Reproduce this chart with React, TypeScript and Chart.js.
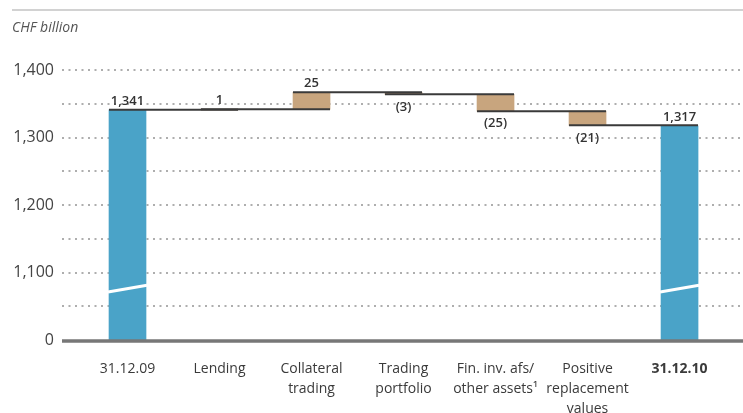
import React, { useEffect, useRef } from "react";
import { Chart, registerables } from "chart.js";

Chart.register(...registerables);

// ---- data ----
const categories: (string | string[])[] = [
  "31.12.09",
  "Lending",
  ["Collateral", "trading"],
  ["Trading", "portfolio"],
  ["Fin. inv. afs/", "other assets¹"],
  ["Positive", "replacement", "values"],
  "31.12.10",
];
const startTotal = 1341;
const changes = [1, 25, -3, -25, -21];
const endTotal = 1317;
const valueLabels = ["1,341", "1", "25", "(3)", "(25)", "(21)", "1,317"];
const axisBreakValue = 1000; // shown as 0 (broken axis)
const yTickValues = [1000, 1100, 1200, 1300, 1400];
const yTickLabels = ["0", "1,100", "1,200", "1,300", "1,400"];
const unitLabel = "CHF billion";

const BLUE = "#4aa3c8";
const BROWN = "#c8a57e";
const DARK = "#3a3a3a";
const FONT = "'Open Sans', 'Noto Sans', sans-serif";

// build floating ranges
const ranges: [number, number][] = [];
const levels: number[] = [];
ranges.push([axisBreakValue, startTotal]);
levels.push(startTotal);
let run = startTotal;
for (const c of changes) {
  const next = run + c;
  ranges.push([Math.min(run, next), Math.max(run, next)]);
  run = next;
  levels.push(run);
}
ranges.push([axisBreakValue, endTotal]);
const isTotal = (i: number) => i === 0 || i === categories.length - 1;
const isUp = (i: number) => isTotal(i) || changes[i - 1] > 0;

export default function App() {
  const ref = useRef<HTMLCanvasElement>(null);

  useEffect(() => {
    document.body.style.margin = "0";
    const canvas = ref.current!;

    const decor = {
      id: "decor",
      beforeDraw(chart: any) {
        const ctx = chart.ctx;
        ctx.save();
        ctx.strokeStyle = "#d2d2d2";
        ctx.lineWidth = 2;
        ctx.beginPath();
        ctx.moveTo(12, 10);
        ctx.lineTo(743, 10);
        ctx.stroke();
        ctx.fillStyle = "#555";
        ctx.font = `italic 14px ${FONT}`;
        ctx.textBaseline = "middle";
        ctx.textAlign = "left";
        ctx.fillText(unitLabel, 12, 28);
        ctx.restore();
      },
      afterDatasetsDraw(chart: any) {
        const ctx = chart.ctx;
        const y = chart.scales.y;
        const meta = chart.getDatasetMeta(0);
        const els = meta.data;
        ctx.save();
        // connectors
        ctx.strokeStyle = DARK;
        ctx.lineWidth = 2;
        for (let i = 0; i < els.length - 1; i++) {
          const a = els[i];
          const b = els[i + 1];
          const py = y.getPixelForValue(levels[i]);
          ctx.beginPath();
          ctx.moveTo(a.x - a.width / 2, py);
          ctx.lineTo(b.x + b.width / 2, py);
          ctx.stroke();
        }
        // axis break marks
        ctx.strokeStyle = "#ffffff";
        ctx.lineWidth = 3;
        for (const i of [0, els.length - 1]) {
          const e = els[i];
          ctx.beginPath();
          ctx.moveTo(e.x - e.width / 2 - 1, y.getPixelForValue(1071));
          ctx.lineTo(e.x + e.width / 2 + 1, y.getPixelForValue(1081));
          ctx.stroke();
        }
        // baseline axis
        ctx.strokeStyle = "#777";
        ctx.lineWidth = 3.5;
        const by = y.getPixelForValue(axisBreakValue) + 1;
        ctx.beginPath();
        ctx.moveTo(chart.chartArea.left, by);
        ctx.lineTo(743, by);
        ctx.stroke();
        // value labels
        ctx.fillStyle = "#333";
        ctx.font = `600 13px ${FONT}`;
        ctx.textAlign = "center";
        ctx.textBaseline = "middle";
        for (let i = 0; i < els.length; i++) {
          const e = els[i];
          const [lo, hi] = ranges[i];
          if (isUp(i)) {
            ctx.fillText(valueLabels[i], e.x, y.getPixelForValue(hi) - 9);
          } else {
            ctx.fillText(valueLabels[i], e.x, y.getPixelForValue(lo) + 12.5);
          }
        }
        ctx.restore();
      },
    };

    const chart = new Chart(canvas, {
      type: "bar",
      data: {
        datasets: [
          {
            data: ranges.map((r, i) => ({ x: i, y: r })) as any,
            backgroundColor: ranges.map((_, i) => (isTotal(i) ? BLUE : BROWN)),
            borderWidth: 0,
            barThickness: 37,
          },
        ],
      },
      options: {
        animation: false,
        responsive: false,
        devicePixelRatio: 1,
        layout: { padding: { top: 70, right: 2, bottom: 0, left: 0 } },
        plugins: { legend: { display: false }, tooltip: { enabled: false } },
        scales: {
          x: {
            type: "linear",
            min: -0.712,
            max: 6.668,
            offset: false,
            grid: { display: false, offset: false },
            border: { display: false },
            afterBuildTicks: (s: any) => {
              s.ticks = categories.map((_, i) => ({ value: i }));
            },
            afterFit: (s: any) => {
              s.height = 73;
            },
            ticks: {
              autoSkip: false,
              maxRotation: 0,
              minRotation: 0,
              padding: 11,
              color: "#3a3a3a",
              font: (c: any) => ({
                family: FONT,
                size: 14,
                weight: c.index === categories.length - 1 ? "bold" : "normal",
                lineHeight: "20px",
              }),
              callback: (v: any) => categories[Math.round(Number(v))] as any,
            },
          },
          y: {
            min: 1000,
            max: 1400,
            beginAtZero: false,
            afterFit: (s: any) => {
              s.width = 62;
            },
            grid: {
              drawTicks: false,
              color: (c: any) => (c.tick && c.tick.value === axisBreakValue ? "rgba(0,0,0,0)" : "rgba(140,140,140,0.7)"),
              lineWidth: 2,
            },
            border: { display: false, dash: [2, 4.5] },
            ticks: {
              stepSize: 50,
              padding: 8,
              color: "#444",
              font: { family: FONT, size: 16 },
              callback: (v: any) => {
                const k = yTickValues.indexOf(Number(v));
                return k >= 0 ? yTickLabels[k] : "";
              },
            },
          },
        },
      },
      plugins: [decor],
    });
    return () => chart.destroy();
  }, []);

  return (
    <div style={{ width: 743, height: 413, position: "relative" }}>
      <canvas ref={ref} width={743} height={413} style={{ display: "block" }} />
    </div>
  );
}
